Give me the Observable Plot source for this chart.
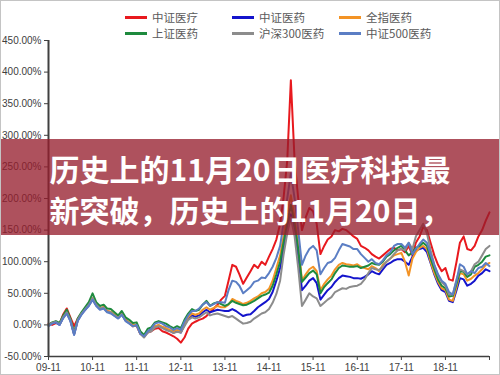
<!DOCTYPE html>
<html>
<head>
<meta charset="utf-8">
<script src="https://cdn.jsdelivr.net/npm/d3@7"></script>
<script src="https://cdn.jsdelivr.net/npm/@observablehq/plot@0.6"></script>
<style>
  html, body { margin: 0; padding: 0; background: #fff; }
  #wrap { position: relative; width: 500px; height: 375px; overflow: hidden; background: #fff; }
  #legend { position: relative; width: 500px; height: 34px; font-family: "Noto Sans CJK SC", sans-serif; font-size: 11.5px; color: #5a5a5a; }
  .item { position: absolute; height: 14px; line-height: 14px; white-space: nowrap; }
  .swatch { position: absolute; left: 0; top: 6px; width: 22px; height: 3px; }
  .lab { position: absolute; left: 27px; top: 0; }
  #banner { position: absolute; left: 0; top: 139px; width: 500px; height: 96px; background: rgba(150,28,44,0.77);
            color: #fff; font-family: "Noto Sans CJK SC", sans-serif; font-weight: bold; font-size: 30px;
            line-height: 41px; text-align: center; padding-top: 9px; box-sizing: border-box; }
  #frame { position: absolute; left: 0; top: 0; width: 500px; height: 375px; box-sizing: border-box; border: 1px solid #c4c4c4; pointer-events: none; }
</style>
</head>
<body>
<div id="wrap">
  <div id="legend"></div>
  <div id="chart"></div>
  <div id="banner"><div>历史上的11月20日医疗科技最</div><div>新突破，历史上的11月20日，</div></div>
  <div id="frame"></div>
</div>
<script>
// Series (monthly, cumulative return %, starting 2009-11)
const seriesNames = ["中证医疗", "中证医药", "全指医药", "上证医药", "沪深300医药", "中证500医药"];
const seriesColors = ["#e8191e", "#1414cc", "#f39325", "#1e8a3e", "#8c8c8c", "#5b7ec4"];

const csiMedicalService = [
  2,0,3,2,16,26,12,-2,10,18,
  26,33,42,32,26,28,22,20,16,12,
  18,8,3,-2,-1,-14,-18,-12,-10,-6,
  -5,-10,-12,-15,-18,-22,-28,-20,-6,2,
  5,8,10,14,20,26,32,40,46,70,
  95,92,80,65,75,85,95,90,100,95,
  108,120,135,160,200,260,387,260,200,150,
  170,185,180,160,112,125,135,140,150,148,
  152,150,145,140,136,125,122,118,112,108,
  105,110,115,120,122,118,120,115,125,110,
  130,140,155,150,130,110,95,85,90,72,
  70,100,130,140,120,118,125,140,150,165,178
];
const csiPharma = [
  0,3,4,0,11,19,7,-15,7,17,
  24,31,40,31,25,27,21,20,15,11,
  17,7,3,-1,0,-13,-19,-11,-9,-3,
  -1,-4,-7,-9,-12,-10,-12,0,10,15,
  13,15,20,24,20,22,24,23,22,22,
  25,22,18,14,16,17,22,28,32,36,
  41,52,70,90,120,150,175,150,110,55,
  62,70,74,66,40,48,55,60,68,74,
  78,77,76,74,74,73,76,80,85,82,
  80,88,95,98,102,104,104,100,95,108,
  118,120,122,115,98,80,65,55,52,38,
  36,55,74,72,62,65,70,78,82,88,85
];
const allSharePharma = [
  0,3,5,1,12,20,8,-14,8,18,
  25,32,42,32,26,28,22,21,16,12,
  18,8,4,0,1,-12,-18,-10,-8,-2,
  0,-3,-5,-8,-10,-8,-10,2,12,18,
  16,18,24,28,24,27,30,28,28,32,
  41,38,36,33,35,38,42,45,50,52,
  57,70,90,110,140,175,205,170,130,70,
  80,88,92,85,55,65,72,78,88,95,
  98,96,95,94,96,92,90,88,93,90,
  85,95,100,105,110,112,114,100,78,105,
  115,122,125,120,100,82,68,58,55,40,
  38,60,82,80,70,73,78,82,88,95,98
];
const ssePharma = [
  0,4,6,3,14,24,10,-12,10,20,
  28,36,50,36,30,32,26,25,20,15,
  22,12,8,3,4,-10,-16,-6,-4,4,
  6,4,2,-2,-5,-2,-5,8,18,25,
  22,24,32,38,30,34,36,33,30,33,
  38,35,33,31,32,35,38,42,46,48,
  51,62,80,100,130,160,190,160,120,68,
  75,82,86,80,50,60,66,72,82,90,
  94,93,92,92,93,90,92,94,98,96,
  95,100,108,112,118,122,125,118,110,115,
  122,125,130,125,105,88,72,62,58,45,
  46,65,85,84,76,80,92,95,100,108,110
];
const hs300Pharma = [
  0,3,5,1,12,20,8,-14,8,18,
  25,32,42,32,26,27,21,20,15,11,
  17,7,3,-2,-1,-14,-20,-12,-10,-4,
  -2,-5,-8,-10,-13,-11,-12,-2,8,12,
  10,12,16,20,15,17,18,16,14,12,
  14,10,6,2,3,5,10,14,18,20,
  25,35,49,70,110,145,170,140,90,30,
  40,50,45,42,30,35,40,44,52,55,
  58,57,60,61,62,65,72,82,90,88,
  87,92,100,105,112,118,120,118,130,120,
  140,150,160,145,118,95,78,68,62,48,
  48,72,88,85,80,85,96,100,110,120,125
];
const csi500Pharma = [
  -2,2,4,0,10,18,6,-16,6,16,
  24,30,40,30,24,26,20,18,14,10,
  16,6,2,-2,0,-14,-18,-10,-6,2,
  4,2,-2,-4,-8,-5,-8,5,15,22,
  22,26,32,36,30,33,36,36,35,55,
  70,68,62,50,55,60,68,70,75,74,
  82,92,106,125,160,200,240,200,150,95,
  110,120,125,118,80,90,98,100,106,118,
  128,126,124,120,120,112,106,100,104,98,
  96,102,110,115,125,128,128,122,130,112,
  120,128,135,130,112,95,80,70,65,52,
  48,70,96,92,80,85,82,90,92,98,93
];
const seriesValues = [csiMedicalService, csiPharma, allSharePharma, ssePharma, hs300Pharma, csi500Pharma];

const xTickLabels = ["09-11","10-11","11-11","12-11","13-11","14-11","15-11","16-11","17-11","18-11",""];
const yTicks = [-50, 0, 50, 100, 150, 200, 250, 300, 350, 400, 450];

// Build table
const months = d3.utcMonth.range(new Date(Date.UTC(2009, 10, 1)), new Date(Date.UTC(2019, 11, 1)));
const data = [];
seriesNames.forEach((name, s) => {
  seriesValues[s].forEach((v, i) => data.push({series: name, date: months[i], value: v}));
});
const tickDates = xTickLabels.map((_, i) => new Date(Date.UTC(2009 + i, 10, 1)));
const tickLabelMap = new Map(tickDates.map((d, i) => [+d, xTickLabels[i]]));

// Legend
const legendPos = [[125, 10], [232, 10], [339, 10], [125, 26], [232, 26], [339, 26]];
const legend = document.getElementById("legend");
seriesNames.forEach((name, i) => {
  const it = document.createElement("div");
  it.className = "item";
  it.style.left = legendPos[i][0] + "px";
  it.style.top = legendPos[i][1] + "px";
  it.innerHTML = `<span class="swatch" style="background:${seriesColors[i]}"></span><span class="lab">${name}</span>`;
  legend.appendChild(it);
});

const chart = Plot.plot({
  width: 500,
  height: 341,
  marginLeft: 48,
  marginRight: 11,
  marginTop: 6,
  marginBottom: 19,
  style: {fontFamily: "'Liberation Sans', Arial, sans-serif", fontSize: "10px", color: "#404040", background: "white", overflow: "visible"},
  x: {type: "utc", domain: [months[0], months[months.length - 1]], ticks: tickDates, tickFormat: d => tickLabelMap.get(+d) ?? "", tickSize: 4, tickPadding: 3, label: null},
  y: {domain: [-50, 450], ticks: yTicks, tickFormat: d => d.toFixed(2) + "%", tickSize: 4, tickPadding: 3, label: null},
  color: {domain: seriesNames, range: seriesColors},
  marks: [
    Plot.line(data, {x: "date", y: "value", stroke: "series", z: "series", strokeWidth: 2}),
    Plot.ruleX([months[0]], {stroke: "#404040", strokeWidth: 2}),
    Plot.ruleY([yTicks[0]], {stroke: "#404040", strokeWidth: 1.5})
  ]
});
document.getElementById("chart").appendChild(chart);
</script>
</body>
</html>
